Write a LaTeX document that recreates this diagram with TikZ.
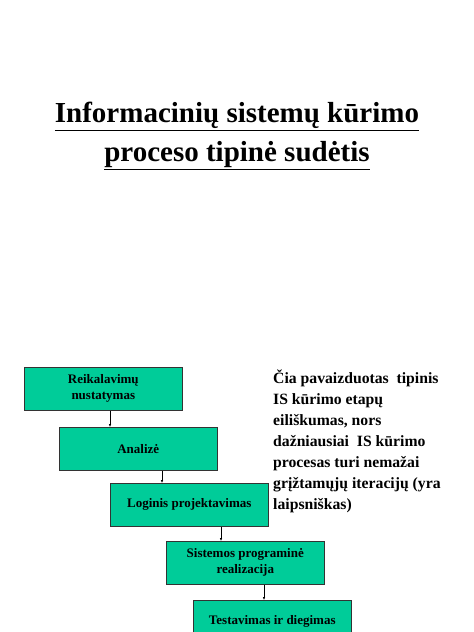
\documentclass[tikz,border=0pt]{standalone}
\usepackage{fontspec}
\setmainfont{Liberation Serif}
\usetikzlibrary{arrows.meta}
\definecolor{boxfill}{HTML}{00CC99}
\tikzset{
  stage/.style={draw=black!80, line width=0.6pt, fill=boxfill, minimum width=158pt, minimum height=43pt,
    inner sep=0pt, align=center, font=\fontsize{13}{16}\selectfont\bfseries, anchor=north west},
  link/.style={-{Latex[length=3pt,width=2.5pt]}, line width=0.5pt, black},
}
\begin{document}
\begin{tikzpicture}[x=1pt,y=-1pt]
\useasboundingbox (0,0) rectangle (474,632);
\clip (0,0) rectangle (474,632);
\node (title) at (237,136) [align=center, font=\fontsize{29}{39}\selectfont\bfseries]
  {\underline{Informacinių sistemų kūrimo}\\\underline{proceso tipinė sudėtis}};
\node[stage] (s1) at (24,367) {Reikalavimų\\nustatymas};
\node[stage] (s2) at (59,427) {Analizė};
\node[stage] (s3) at (110,483) {Loginis projektavimas};
\node[stage] (s4) at (166,541) {Sistemos programinė\\realizacija};
\node[stage] (s5) at (193,600) {Testavimas ir diegimas};
\node (note) at (273,370) [anchor=north west, align=left, inner sep=0pt,
  font=\fontsize{15.7}{20.9}\selectfont\bfseries]
  {Čia pavaizduotas \ tipinis\\IS kūrimo etapų\\eiliškumas, nors\\dažniausiai \ IS kūrimo\\procesas turi nemažai\\grįžtamųjų iteracijų (yra\\laipsniškas)};
\draw[link] (s1.south west) ++(86,0) coordinate (a1) -- (a1 |- s2.north);
\draw[link] (s2.south west) ++(103,0) coordinate (a2) -- (a2 |- s3.north);
\draw[link] (s3.south west) ++(111,0) coordinate (a3) -- (a3 |- s4.north);
\draw[link] (s4.south west) ++(98,0) coordinate (a4) -- (a4 |- s5.north);
\end{tikzpicture}
\end{document}
